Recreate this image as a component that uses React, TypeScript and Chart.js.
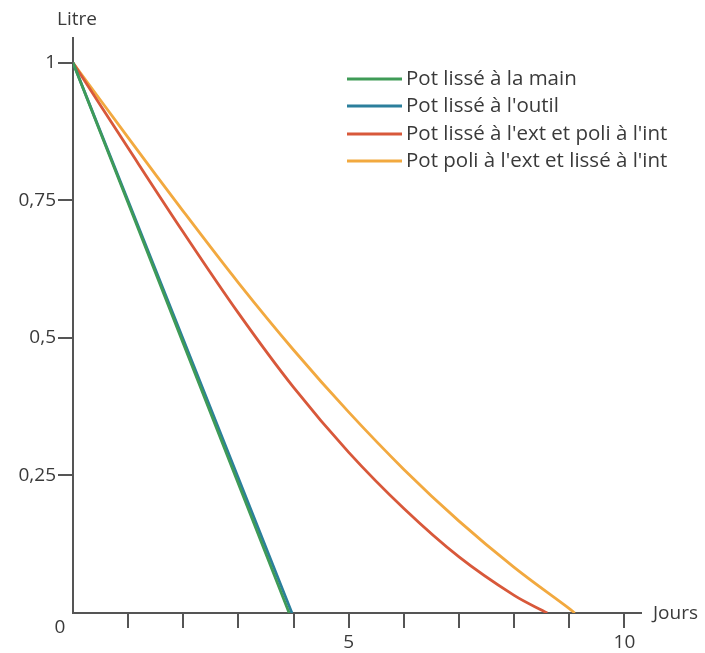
import React, { useEffect, useRef } from "react";
import { Chart, registerables } from "chart.js";

Chart.register(...registerables);

const seriesLabels = [
  "Pot lissé à la main",
  "Pot lissé à l'outil",
  "Pot lissé à l'ext et poli à l'int",
  "Pot poli à l'ext et lissé à l'int",
];
const seriesColors = ["#3f9b57", "#2b7f9c", "#d8583a", "#f2a93f"];

const mainDays = [0, 2, 3.92];
const mainLitres = [1, 0.49, 0];
const outilDays = [0, 2, 3.97];
const outilLitres = [1, 0.497, 0];
const extPoliDays = [0, 1, 2, 3, 4, 5, 6, 7, 8, 8.6];
const extPoliLitres = [1, 0.845, 0.692, 0.545, 0.41, 0.292, 0.19, 0.102, 0.032, 0];
const poliExtDays = [0, 1, 2, 3, 4, 5, 6, 7, 8, 9, 9.1];
const poliExtLitres = [1, 0.864, 0.73, 0.6, 0.478, 0.365, 0.261, 0.167, 0.083, 0.008, 0];

const xTicks = [1, 2, 3, 4, 5, 6, 7, 8, 9, 10];
const xLabelled = [5, 10];
const yTicks = [0.25, 0.5, 0.75, 1];
const xAxisTitle = "Jours";
const yAxisTitle = "Litre";
const originLabel = "0";

const FONT = "'Open Sans', sans-serif";
const TEXT = "#3a3a3a";

function pts(xs: number[], ys: number[]) {
  return xs.map((x, i) => ({ x, y: ys[i] }));
}

export default function App() {
  const ref = useRef<HTMLCanvasElement | null>(null);
  useEffect(() => {
    if (!ref.current) return;
    const data = [
      pts(mainDays, mainLitres),
      pts(outilDays, outilLitres),
      pts(extPoliDays, extPoliLitres),
      pts(poliExtDays, poliExtLitres),
    ];
    const extras = {
      id: "extras",
      afterDraw(chart: any) {
        const ctx = chart.ctx;
        const xs = chart.scales.x;
        const ys = chart.scales.y;
        ctx.save();
        ctx.fillStyle = TEXT;
        ctx.font = `19px ${FONT}`;
        ctx.textBaseline = "middle";
        ctx.textAlign = "center";
        ctx.fillText(yAxisTitle, xs.getPixelForValue(0) + 4, ys.top - 18);
        ctx.textAlign = "left";
        ctx.fillText(xAxisTitle, xs.right + 12, ys.getPixelForValue(0) + 1);
        ctx.textAlign = "center";
        ctx.fillText(originLabel, xs.getPixelForValue(0) - 13, ys.getPixelForValue(0) + 15);
        // legend
        const lx0 = 347, lx1 = 402, tx = 406;
        const rows = [79, 106, 134, 161];
        ctx.font = `20.5px ${FONT}`;
        ctx.textAlign = "left";
        chart.data.datasets.forEach((ds: any, i: number) => {
          ctx.strokeStyle = ds.borderColor;
          ctx.lineWidth = 3;
          ctx.beginPath();
          ctx.moveTo(lx0, rows[i]);
          ctx.lineTo(lx1, rows[i]);
          ctx.stroke();
          ctx.fillStyle = TEXT;
          ctx.fillText(ds.label, tx, rows[i]);
        });
        ctx.restore();
      },
    };
    const chart = new Chart(ref.current, {
      type: "line",
      data: {
        datasets: seriesLabels.map((label, i) => ({
          label,
          data: data[i],
          borderColor: seriesColors[i],
          backgroundColor: seriesColors[i],
          borderWidth: 2.8,
          pointRadius: 0,
          tension: 0.35,
          fill: false,
        })),
      },
      options: {
        responsive: false,
        animation: false,
        devicePixelRatio: 1,
        layout: { padding: { top: 38, right: 64, bottom: 0, left: 8 } },
        plugins: { legend: { display: false }, tooltip: { enabled: false } },
        scales: {
          x: {
            type: "linear",
            min: 0,
            max: 10.3,
            border: { color: "#555", width: 2 },
            grid: { drawOnChartArea: false, drawTicks: true, tickLength: 15, color: "#555", lineWidth: 2 },
            afterBuildTicks: (s: any) => {
              s.ticks = xTicks.map((v) => ({ value: v }));
            },
            afterFit: (s: any) => {
              s.height = 40;
            },
            ticks: {
              autoSkip: false,
              maxRotation: 0,
              padding: 3,
              color: TEXT,
              font: { family: FONT, size: 19 },
              callback: (v: any) => (xLabelled.includes(Number(v)) ? String(v) : ""),
            },
          },
          y: {
            type: "linear",
            min: 0,
            max: 1.045,
            border: { color: "#555", width: 2 },
            grid: { drawOnChartArea: false, drawTicks: true, tickLength: 15, color: "#555", lineWidth: 2 },
            afterBuildTicks: (s: any) => {
              s.ticks = yTicks.map((v) => ({ value: v }));
            },
            afterFit: (s: any) => {
              s.width = 65;
            },
            ticks: {
              padding: 2,
              color: TEXT,
              font: { family: FONT, size: 19 },
              callback: (v: any) => String(v).replace(".", ","),
            },
          },
        },
      },
      plugins: [extras],
    } as any);
    return () => chart.destroy();
  }, []);
  return (
    <div style={{ position: "fixed", left: 0, top: 0, width: 705, height: 653, background: "#fff" }}>
      <canvas ref={ref} width={705} height={653} style={{ width: 705, height: 653, display: "block" }} />
    </div>
  );
}
